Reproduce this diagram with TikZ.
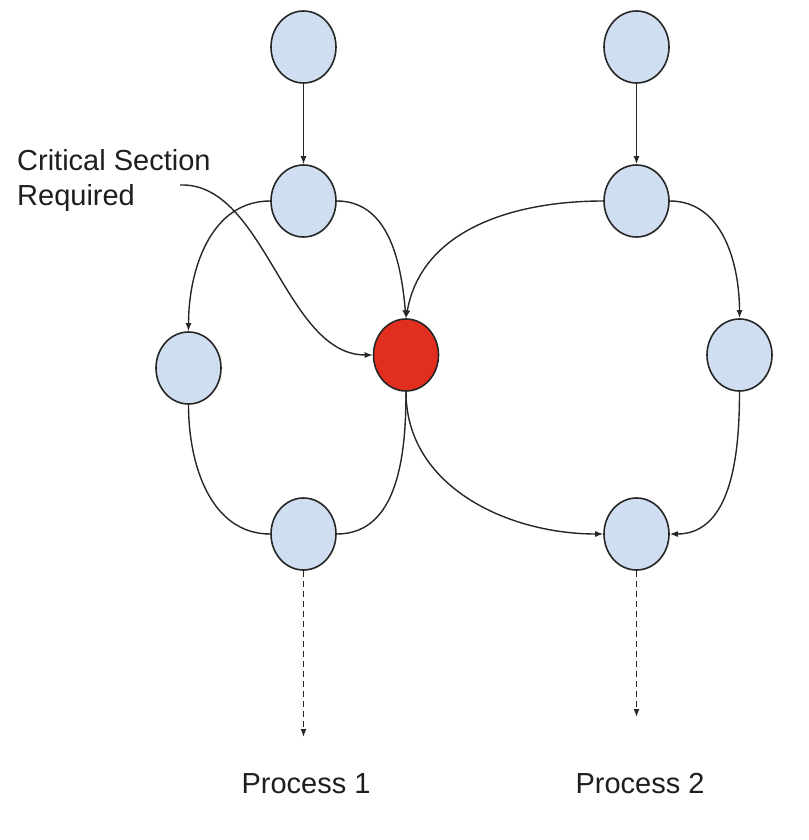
\documentclass[tikz,border=0pt]{standalone}
\usepackage{fontspec}
\setmainfont{Liberation Sans}
\usetikzlibrary{shapes.geometric,arrows.meta}
\definecolor{nodeblue}{RGB}{207,222,240}
\definecolor{critred}{RGB}{226,46,30}
\definecolor{txt}{RGB}{30,30,30}
\tikzset{
  proc/.style={ellipse, draw=black!85, line width=1.6pt, fill=nodeblue, minimum width=65pt, minimum height=72pt, inner sep=0pt},
  crit/.style={proc, fill=critred},
  conn/.style={line width=1.4pt, draw=black!85},
  arr/.style={conn, -{Latex[length=8pt,width=6pt]}},
  darr/.style={arr, dash pattern=on 6pt off 4pt},
  lbl/.style={font=\fontsize{29}{35}\selectfont, text=txt, inner sep=0pt}
}
\begin{document}
\begin{tikzpicture}[x=1pt,y=-1pt]
\useasboundingbox (0,0) rectangle (808,840);
% Process 1
\node[proc] (a1) at (303.5,47) {};
\node[proc] (a2) at (303.5,201) {};
\node[proc] (a3) at (188.5,368) {};
\node[proc] (a4) at (303.5,534) {};
% Process 2
\node[proc] (b1) at (636.5,47) {};
\node[proc] (b2) at (636.5,201) {};
\node[proc] (b3) at (739.5,355) {};
\node[proc] (b4) at (636.5,534) {};
% critical
\node[crit] (c) at (406,355) {};
% ends
\coordinate (e1) at (303.5,737);
\coordinate (e2) at (636.5,717);
% labels
\node[lbl, anchor=base] (p1) at (306,793) {Process 1};
\node[lbl, anchor=base] (p2) at (640,793) {Process 2};
\node[lbl, anchor=north west, align=left] (cs) at (17,149) {Critical Section\\Required};
\coordinate (csend) at (180,185);
% edges
\draw[arr] (a1) -- (a2);
\draw[arr] (b1) -- (b2);
\draw[arr] (a2.west) to[out=180,in=90] (a3.north);
\draw[arr] (a2.east) to[out=0,in=95] (c.north);
\draw[arr] (b2.west) to[out=180,in=80] (c.north);
\draw[arr] (b2.east) to[out=0,in=90] (b3.north);
\draw[conn] (a3.south) to[out=-90,in=180] (a4.west);
\draw[conn] (c.south) to[out=-90,in=0] (a4.east);
\draw[arr] (c.south) to[out=-90,in=180] (b4.west);
\draw[arr] (b3.south) to[out=-90,in=0] (b4.east);
\draw[arr] (csend) .. controls (265,182) and (285,355) .. (c.west);
\draw[darr] (a4.south) -- (e1);
\draw[darr] (b4.south) -- (e2);
\end{tikzpicture}
\end{document}
